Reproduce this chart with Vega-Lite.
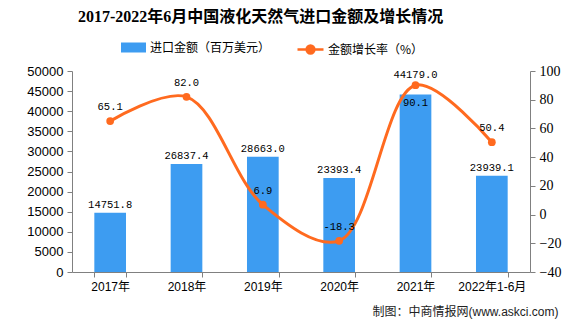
{
  "$schema": "https://vega.github.io/schema/vega-lite/v6.json",
  "width": 458,
  "height": 201,
  "autosize": {"type": "none"},
  "padding": {"left": 72, "top": 71, "right": 47, "bottom": 52},
  "background": "white",
  "title": {
    "text": "2017-2022年6月中国液化天然气进口金额及增长情况",
    "anchor": "start",
    "frame": "group",
    "dx": 6,
    "offset": 10,
    "font": "Liberation Serif, Noto Sans CJK SC",
    "fontSize": 16,
    "fontWeight": "bold",
    "color": "#000000"
  },
  "config": {
    "view": {"stroke": null},
    "axis": {"domainColor": "#808080", "tickColor": "#808080", "grid": false, "labelColor": "#000000", "tickSize": 5}
  },
  "data": {
    "values": [
      {"year": "2017年", "amount": 14751.8, "growth": 65.1},
      {"year": "2018年", "amount": 26837.4, "growth": 82.0},
      {"year": "2019年", "amount": 28663.0, "growth": 6.9},
      {"year": "2020年", "amount": 23393.4, "growth": -18.3},
      {"year": "2021年", "amount": 44179.0, "growth": 90.1},
      {"year": "2022年1-6月", "amount": 23939.1, "growth": 50.4}
    ]
  },
  "encoding": {
    "x": {
      "field": "year",
      "type": "nominal",
      "sort": null,
      "scale": {"paddingInner": 0.585, "paddingOuter": 0.2925},
      "axis": {
        "title": "制图：中商情报网(www.askci.com)",
        "titleX": 486,
        "titleY": 39,
        "titleAlign": "right",
        "titleBaseline": "middle",
        "titleFont": "Liberation Sans, Noto Sans CJK SC",
        "titleFontSize": 12,
        "titleFontWeight": "normal",
        "titleColor": "#222222",
        "labelAngle": 0,
        "labelFont": "Liberation Sans, Noto Sans CJK SC",
        "labelFontSize": 12,
        "labelPadding": 4,
        "tickBand": "extent"
      }
    }
  },
  "layer": [
    {
      "encoding": {
        "y": {
          "field": "amount",
          "type": "quantitative",
          "scale": {"domain": [0, 50000], "nice": false},
          "axis": {
            "title": null,
            "values": [0, 5000, 10000, 15000, 20000, 25000, 30000, 35000, 40000, 45000, 50000],
            "format": "d",
            "labelFont": "Liberation Sans",
            "labelFontSize": 13,
            "labelPadding": 4
          }
        }
      },
      "layer": [
        {
          "mark": {"type": "bar", "color": "#3D9CF1"},
          "encoding": {
            "fill": {
              "datum": "进口金额（百万美元）",
              "type": "nominal",
              "scale": {"range": ["#3D9CF1"]},
              "legend": {
                "orient": "none",
                "legendX": 49,
                "legendY": -36,
                "direction": "horizontal",
                "title": null,
                "symbolType": "M-1,-0.4H1V0.4H-1Z",
                "symbolSize": 625,
                "symbolStrokeWidth": 0,
                "labelFont": "Noto Sans CJK SC",
                "labelFontSize": 12,
                "labelColor": "#000000",
                "labelOffset": 4
              }
            }
          }
        },
        {
          "transform": [{"filter": "datum.year !== '2021年'"}],
          "mark": {"type": "text", "baseline": "middle", "dy": -8, "font": "Liberation Mono", "fontSize": 10.5, "color": "#000000"},
          "encoding": {
            "text": {"field": "amount", "type": "quantitative", "format": ".1f"}
          }
        },
        {
          "transform": [{"filter": "datum.year === '2021年'"}],
          "mark": {"type": "text", "baseline": "middle", "dy": -19, "font": "Liberation Mono", "fontSize": 10.5, "color": "#000000"},
          "encoding": {
            "text": {"field": "amount", "type": "quantitative", "format": ".1f"}
          }
        }
      ]
    },
    {
      "encoding": {
        "y": {
          "field": "growth",
          "type": "quantitative",
          "scale": {"domain": [-40, 100], "nice": false},
          "axis": {
            "orient": "right",
            "title": null,
            "values": [-40, -20, 0, 20, 40, 60, 80, 100],
            "labelFont": "Liberation Serif",
            "labelFontSize": 14,
            "labelPadding": 4
          }
        }
      },
      "layer": [
        {
          "mark": {"type": "line", "interpolate": "catmull-rom", "strokeWidth": 3},
          "encoding": {
            "stroke": {
              "datum": "金额增长率（%）",
              "type": "nominal",
              "scale": {"range": ["#FF6A1F"]},
              "legend": {
                "orient": "none",
                "legendX": 224,
                "legendY": -36,
                "direction": "horizontal",
                "title": null,
                "symbolType": "M-1,0H1M-0.3,0A0.3,0.3 0 1 1 0.3,0A0.3,0.3 0 1 1 -0.3,0Z",
                "symbolSize": 676,
                "symbolStrokeWidth": 2.5,
                "symbolFillColor": "#FF6A1F",
                "labelFont": "Noto Sans CJK SC",
                "labelFontSize": 12,
                "labelColor": "#000000",
                "labelOffset": 3
              }
            }
          }
        },
        {
          "mark": {"type": "point", "filled": true, "size": 60, "color": "#FF6A1F", "opacity": 1}
        },
        {
          "transform": [
            {"filter": "datum.year !== '2021年'"},
            {"calculate": "replace(format(datum.growth, '.1f'), '\u2212', '-')", "as": "glabel"}
          ],
          "mark": {"type": "text", "baseline": "middle", "dy": -14, "font": "Liberation Mono", "fontSize": 10.5, "color": "#000000"},
          "encoding": {
            "text": {"field": "glabel", "type": "nominal"}
          }
        },
        {
          "transform": [
            {"filter": "datum.year === '2021年'"},
            {"calculate": "format(datum.growth, '.1f')", "as": "glabel"}
          ],
          "mark": {"type": "text", "baseline": "middle", "dy": 18, "font": "Liberation Mono", "fontSize": 10.5, "color": "#000000"},
          "encoding": {
            "text": {"field": "glabel", "type": "nominal"}
          }
        }
      ]
    }
  ],
  "resolve": {"scale": {"y": "independent", "fill": "independent", "stroke": "independent"}}
}
